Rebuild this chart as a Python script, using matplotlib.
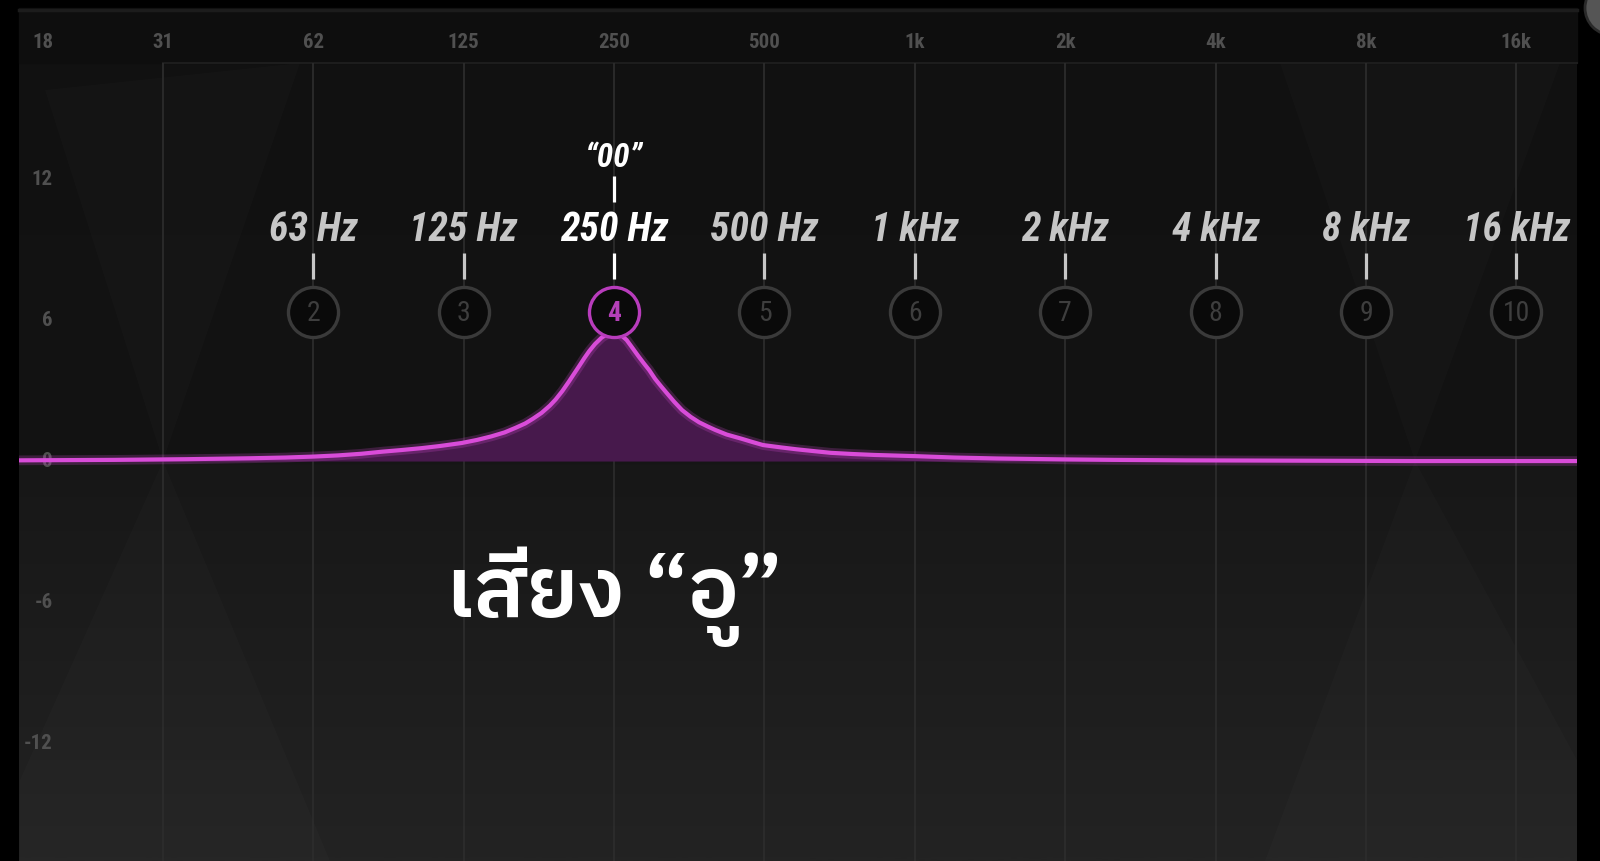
import numpy as np
import matplotlib
matplotlib.use('Agg')
import matplotlib.pyplot as plt
from matplotlib import font_manager as fm, ft2font
from matplotlib.colors import LinearSegmentedColormap
from matplotlib.patches import Polygon, Circle, Rectangle
import matplotlib.transforms as mtransforms

# ---- data ----
grid_freqs = [31.25, 62.5, 125, 250, 500, 1000, 2000, 4000, 8000, 16000]
top_freqs = [18, 31.25, 62.5, 125, 250, 500, 1000, 2000, 4000, 8000, 16000]
top_labels = ['18', '31', '62', '125', '250', '500', '1k', '2k', '4k', '8k', '16k']
db_ticks = [12, 6, 0, -6, -12]
db_labels = ['12', '6', '0', '-6', '-12']

band_freqs = [62.5, 125, 250, 500, 1000, 2000, 4000, 8000, 16000]
band_nums = ['2', '3', '4', '5', '6', '7', '8', '9', '10']
band_labels = ['63 Hz', '125 Hz', '250 Hz', '500 Hz', '1 kHz', '2 kHz', '4 kHz', '8 kHz', '16 kHz']
active_band = 2   # 250 Hz
vowel_label = '\u201c00\u201d'

# eq curve (Hz, dB)
curve_f = [16, 25, 35, 47, 55, 62.5, 70, 78, 86, 94, 103, 112, 124, 133, 142, 151, 159,
           166, 172, 179, 186, 191, 197, 203, 208, 213, 218, 223, 229, 236, 243, 250,
           257, 265, 272, 280, 287, 294, 302, 310, 318, 330, 342, 356, 370, 385, 399,
           420, 450, 475, 497, 540, 580, 630, 679, 750, 830, 1000, 1200, 1460, 2000,
           2500, 3500, 5000, 10000, 22000]
curve_db = [0.03, 0.05, 0.08, 0.12, 0.15, 0.19, 0.24, 0.31, 0.40, 0.47, 0.55, 0.64, 0.77,
            0.90, 1.05, 1.22, 1.42, 1.60, 1.80, 2.05, 2.36, 2.62, 2.98, 3.38, 3.72, 4.05,
            4.38, 4.68, 4.98, 5.25, 5.42, 5.47, 5.40, 5.15, 4.82, 4.45, 4.15, 3.87, 3.50,
            3.20, 2.92, 2.52, 2.17, 1.88, 1.65, 1.47, 1.32, 1.13, 0.95, 0.80, 0.68, 0.58,
            0.50, 0.42, 0.35, 0.30, 0.26, 0.21, 0.15, 0.11, 0.07, 0.05, 0.03, 0.02, 0.0, 0.0]

title_th = 'เสียง \u201cอู\u201d'

# ---- fonts ----
def find_thai():
    fl = sorted(fm.fontManager.ttflist, key=lambda f: 'Thai' not in f.name)
    for fe in fl:
        try:
            if ord('ส') in ft2font.FT2Font(fe.fname).get_charmap():
                return fe.name
        except Exception:
            pass
    return 'DejaVu Sans'

thai_font = find_thai()
have = {f.name for f in fm.fontManager.ttflist}
narrow = [n for n in ['Roboto Condensed', 'Liberation Sans Narrow', 'Roboto', 'DejaVu Sans'] if n in have]

W, H = 1600, 861
fig = plt.figure(figsize=(16, 8.61), dpi=100, facecolor='black')

# background layer in pixel coords
bg = fig.add_axes([0, 0, 1, 1])
bg.set_xlim(0, W)
bg.set_ylim(H, 0)
bg.axis('off')
bg.add_patch(Rectangle((0, 0), W, H, color='black', zorder=0))
cmap = LinearSegmentedColormap.from_list('bg', [(0, '#111111'), (0.527, '#131313'), (0.537, '#171717'),
                                                (0.69, '#1b1b1b'), (1, '#232323')])
grad = np.linspace(0, 1, 600).reshape(-1, 1)
bg.imshow(grad, cmap=cmap, extent=[19, 1577, 861, 8], aspect='auto', zorder=1)
bg.add_patch(Rectangle((19, 8), 1558, 55, color='#0e0e0e', zorder=2))
bg.plot([19, 1577], [9.5, 9.5], color='#1c1c1c', lw=2.5, zorder=3)
bg.plot([163, 1577], [63, 63], color='#1d1d1d', lw=1.5, zorder=3)
# faint hourglass shapes
for pts in [[(163, 461), (45, 90), (300, 63)], [(163, 461), (20, 780), (20, 861), (330, 861)],
            [(1415, 461), (1280, 63), (1560, 63)], [(1415, 461), (1265, 861), (1577, 861), (1577, 760)]]:
    bg.add_patch(Polygon(pts, closed=True, facecolor='white', alpha=0.014, edgecolor='none', zorder=2))
bg.add_patch(Circle((1612, 8), 27, facecolor='#555555', edgecolor='#2a2a2a', lw=2, zorder=3))

# main plot axes
ax = fig.add_axes([19 / W, 0, 1558 / W, 853 / H])
ax.set_facecolor('none')
ax.set_xscale('log', base=2)
ax.set_xlim(16.1, 21160)
ax.set_ylim(-17.02, 19.28)
ax.axis('off')

band_top = 16.94
ax.vlines(grid_freqs, -17.02, band_top, color='#2c2c2c', lw=1.3, zorder=1)

for f, lab in zip(top_freqs, top_labels):
    ax.text(f, 17.8, lab, ha='center', va='center', fontsize=15, color='#505050',
            family=narrow, fontweight='bold')

ytr = mtransforms.blended_transform_factory(ax.transAxes, ax.transData)
for v, lab in zip(db_ticks, db_labels):
    ax.text(0.0218, v, lab, transform=ytr, ha='right', va='center', fontsize=15,
            color='#505050', family=narrow, fontweight='bold', zorder=1)

# curve
ax.fill_between(curve_f, curve_db, 0, color='#47194c', lw=0, zorder=2)
ax.plot(curve_f, curve_db, color='#d94cd9', lw=7, alpha=0.22, zorder=3, solid_joinstyle='round')
ax.plot(curve_f, curve_db, color='#d94cd9', lw=3, zorder=3, solid_joinstyle='round')

# band nodes
node_db = 6.34
for i, (f, n, lab) in enumerate(zip(band_freqs, band_nums, band_labels)):
    act = i == active_band
    ec = '#b83cbc' if act else '#3a3a3a'
    ax.scatter([f], [node_db], s=1300, facecolor='#0a0a0a', edgecolor=ec, linewidths=2.4, zorder=5)
    ax.text(f, node_db - 0.05, n, ha='center', va='center', fontsize=20,
            color='#b440b8' if act else '#3e3e3e', family=narrow, zorder=6,
            fontweight='bold' if act else 'normal')
    col = 'white' if act else '#c6c6c6'
    ax.vlines(f, 7.74, 8.85, color=col, lw=2.3, zorder=4)
    ax.text(f, 9.83, lab, ha='center', va='center', fontsize=28.5, fontweight='bold',
            fontstyle='italic', color=col, family=narrow, zorder=6)

fa = band_freqs[active_band]
ax.vlines(fa, 11.02, 12.13, color='white', lw=2.3, zorder=4)
ax.text(fa, 12.9, vowel_label, ha='center', va='center', fontsize=24, fontweight='bold',
        fontstyle='italic', color='white', family=narrow, zorder=6)

ax.text(fa, -6.64, title_th, ha='center', va='baseline', fontsize=61, color='white',
        family=[thai_font, 'DejaVu Sans'], fontweight='semibold', zorder=7)

fig.savefig('out.png', dpi=100, facecolor='black')
